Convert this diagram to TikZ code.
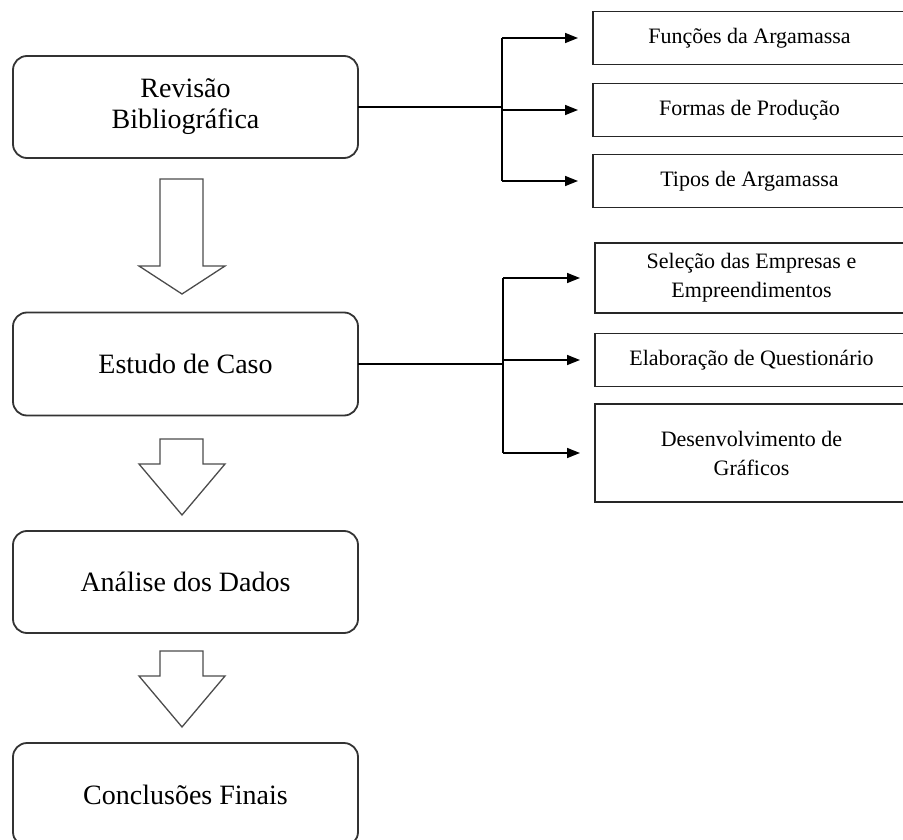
\documentclass[tikz,border=0pt]{standalone}
\usepackage{fontspec}
\setmainfont{Liberation Serif}
\usetikzlibrary{arrows.meta}
\begin{document}
\begin{tikzpicture}[x=1pt,y=-1pt,
  leftbox/.style={draw=black!80, line width=1.8pt, rounded corners=14pt, minimum width=345pt, minimum height=102pt, inner sep=0pt, outer sep=0pt, align=center, font=\fontsize{28}{31}\selectfont},
  rightbox/.style={draw=black!85, line width=1.6pt, minimum width=313pt, inner sep=0pt, outer sep=0pt, align=center, font=\fontsize{22}{29}\selectfont},
  blockarrow/.style={draw=black!70, line width=1.3pt, fill=white, line join=miter},
  conn/.style={line width=1.5pt, draw=black},
  arr/.style={conn, -{Triangle[length=13pt,width=10pt]}, shorten >=15pt}
]
\useasboundingbox (0,0) rectangle (903,840);
% left column
\node[leftbox] (rev) at (185.5,107) {Revisão\\Bibliográfica};
\node[leftbox, minimum height=103pt] (est) at (185.5,364) {Estudo de Caso};
\node[leftbox] (ana) at (185.5,582) {Análise dos Dados};
\node[leftbox, minimum height=103pt] (con) at (185.5,794.5) {Conclusões Finais};
% block arrows
\draw[blockarrow] (160,179) -- (203,179) -- (203,266) -- (225,266) -- (182,294) -- (139,266) -- (160,266) -- cycle;
\draw[blockarrow] (160,439) -- (203,439) -- (203,464) -- (225,464) -- (182,515) -- (139,464) -- (160,464) -- cycle;
\draw[blockarrow] (160,651) -- (203,651) -- (203,676) -- (225,676) -- (182,727) -- (139,676) -- (160,676) -- cycle;
% right boxes group 1
\node[rightbox, minimum height=53pt] (f1) at (749.5,38) {Funções da Argamassa};
\node[rightbox, minimum height=53pt] (f2) at (749.5,110) {Formas de Produção};
\node[rightbox, minimum height=53pt] (f3) at (749.5,181) {Tipos de Argamassa};
% right boxes group 2
\node[rightbox, minimum height=70pt] (s1) at (751.5,278) {Seleção das Empresas e\\Empreendimentos};
\node[rightbox, minimum height=53pt] (s2) at (751.5,360) {Elaboração de Questionário};
\node[rightbox, minimum height=98pt] (s3) at (751.5,453) {Desenvolvimento de\\Gráficos};
% connectors group 1
\coordinate (j1) at (502,107);
\draw[conn] (rev.east) -- (j1);
\draw[conn] (j1 |- f1) -- (j1 |- f3);
\draw[arr] (j1 |- f1) -- (f1.west);
\draw[arr] (j1 |- f2) -- (f2.west);
\draw[arr] (j1 |- f3) -- (f3.west);
% connectors group 2
\coordinate (j2) at (503,364);
\draw[conn] (est.east) -- (j2);
\draw[conn] (j2 |- s1) -- (j2 |- s3);
\draw[arr] (j2 |- s1) -- (s1.west);
\draw[arr] (j2 |- s2) -- (s2.west);
\draw[arr] (j2 |- s3) -- (s3.west);
\end{tikzpicture}
\end{document}
